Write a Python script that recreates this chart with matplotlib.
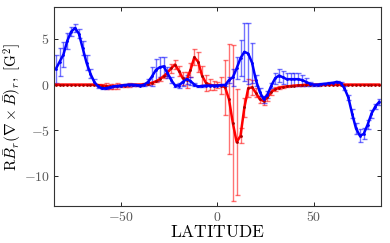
import matplotlib
matplotlib.use('Agg')
import matplotlib.pyplot as plt
import numpy as np

plt.rcParams['mathtext.fontset'] = 'cm'
plt.rcParams['font.family'] = ['DejaVu Serif']

# latitudes (deg), every 2 degrees
lat = list(range(-84, 86, 2))

# blue curve and its errors
blue = [1.7, 2.5, 3.3, 4.8, 5.8, 6.2, 5.6, 4.0, 2.4, 1.2,
        0.3, -0.2, -0.4, -0.4, -0.3, -0.2, -0.15, -0.1, -0.05, 0.0,
        0.0, -0.05, -0.1, 0.0, 0.3, 0.9, 1.6, 1.9, 2.0, 1.3,
        0.5, -0.1, -0.1, 0.3, 0.6, 0.4, 0.0, -0.2, -0.15, -0.1,
        -0.1, -0.1, -0.1, -0.05, -0.05, 0.5, 0.8, 1.8, 2.9, 3.6,
        3.4, 2.4, 0.5, -0.8, -1.6, -1.1, -0.1, 0.7, 1.0, 0.8,
        0.6, 0.6, 0.6, 0.6, 0.5, 0.3, 0.1, 0.0, 0.0, 0.05,
        0.1, 0.15, 0.2, 0.3, 0.2, -0.4, -1.4, -3.2, -4.8, -5.6,
        -5.4, -4.4, -3.2, -2.4, -1.9]
blue_err = [1.5, 1.5, 1.4, 0.9, 0.5, 0.4, 0.5, 0.8, 0.8, 0.5,
            0.3, 0.2, 0.1, 0.1, 0.1, 0.1, 0.1, 0.1, 0.1, 0.1,
            0.1, 0.1, 0.1, 0.1, 0.3, 1.0, 1.2, 1.1, 1.0, 0.6,
            0.3, 0.2, 0.3, 0.5, 0.5, 0.4, 0.2, 0.1, 0.1, 0.1,
            0.1, 0.1, 0.1, 0.1, 0.1, 0.3, 0.9, 1.2, 2.0, 3.2,
            3.3, 2.2, 0.6, 0.4, 0.4, 0.4, 0.3, 0.6, 0.7, 0.7,
            0.7, 0.7, 0.7, 0.7, 0.6, 0.4, 0.2, 0.1, 0.1, 0.1,
            0.1, 0.1, 0.1, 0.1, 0.1, 0.2, 0.3, 0.5, 0.6, 0.7,
            0.6, 0.5, 0.4, 0.3, 0.3]

# red curve and its errors
red = [0.0, 0.0, 0.0, 0.0, 0.0, 0.0, 0.0, 0.0, 0.0, 0.0,
       0.0, -0.05, -0.1, -0.15, -0.2, -0.2, -0.15, -0.1, -0.1, -0.05,
       0.0, 0.0, 0.0, 0.05, 0.1, 0.2, 0.35, 0.6, 0.9, 1.3,
       1.8, 2.2, 1.5, 0.7, 0.5, 1.6, 3.0, 2.5, 1.0, 0.2,
       0.0, -0.1, -0.05, -0.1, -0.3, -1.6, -4.2, -6.3, -5.6, -2.5,
       -0.4, -0.3, -0.9, -1.6, -1.8, -1.4, -0.8, -0.5, -0.35, -0.25,
       -0.2, -0.15, -0.1, -0.08, -0.05, 0.0, 0.0, 0.0, 0.0, 0.0,
       0.0, 0.0, 0.0, 0.0, 0.0, 0.0, 0.0, 0.0, 0.0, 0.0,
       0.0, 0.0, 0.0, 0.0, 0.0]
red_err = [0.05, 0.05, 0.05, 0.05, 0.05, 0.05, 0.05, 0.05, 0.05, 0.05,
           0.05, 0.1, 0.2, 0.3, 0.3, 0.3, 0.3, 0.2, 0.2, 0.2,
           0.1, 0.1, 0.1, 0.1, 0.1, 0.1, 0.1, 0.2, 0.2, 0.3,
           0.5, 0.5, 0.5, 0.7, 0.9, 0.8, 0.9, 1.1, 1.0, 0.9,
           0.6, 0.5, 0.3, 0.9, 3.0, 6.0, 8.5, 5.8, 0.8, 1.0,
           1.0, 0.8, 0.5, 0.4, 0.4, 0.4, 0.3, 0.2, 0.15, 0.1,
           0.1, 0.05, 0.05, 0.05, 0.05, 0.05, 0.05, 0.05, 0.05, 0.05,
           0.05, 0.05, 0.05, 0.05, 0.05, 0.05, 0.05, 0.05, 0.05, 0.05,
           0.05, 0.05, 0.05, 0.05, 0.05]

xticks = [-50, 0, 50]
yticks = [5, 0, -5, -10]

fig = plt.figure(figsize=(3.9, 2.43), dpi=100)
ax = fig.add_axes([0.138, 0.152, 0.839, 0.819])

ax.errorbar(lat, red, yerr=red_err, color='#ff0000', ecolor=(1, 0, 0, 0.55),
            lw=1.8, elinewidth=1, capsize=1.8, capthick=1,
            marker='.', ms=2, mfc='#aa0000', mec='#aa0000')
ax.errorbar(lat, blue, yerr=blue_err, color='#0000ff', ecolor=(0, 0, 1, 0.55),
            lw=1.8, elinewidth=1, capsize=1.8, capthick=1,
            marker='.', ms=2)

ax.set_xlim(-85, 85)
ax.set_ylim(-13.3, 8.5)
ax.set_xticks(xticks)
ax.set_xticklabels([r'$%d$' % t for t in xticks])
ax.set_yticks(yticks)
ax.set_yticklabels([r'$%d$' % t for t in yticks])
ax.tick_params(direction='in', top=True, right=True, length=3, width=0.6,
               labelsize=10, labelcolor='0.35', pad=3)
for s in ax.spines.values():
    s.set_linewidth(0.8)
    s.set_color('0.2')

ax.set_xlabel(r'$\mathrm{LATITUDE}$', fontsize=12.5, labelpad=0)
ax.set_ylabel(r'$\mathrm{R}\bar{B}_r(\nabla\times\bar{B})_r,\ [\mathrm{G}^2]$',
              fontsize=11, labelpad=0)

fig.savefig('out.png', dpi=100)
